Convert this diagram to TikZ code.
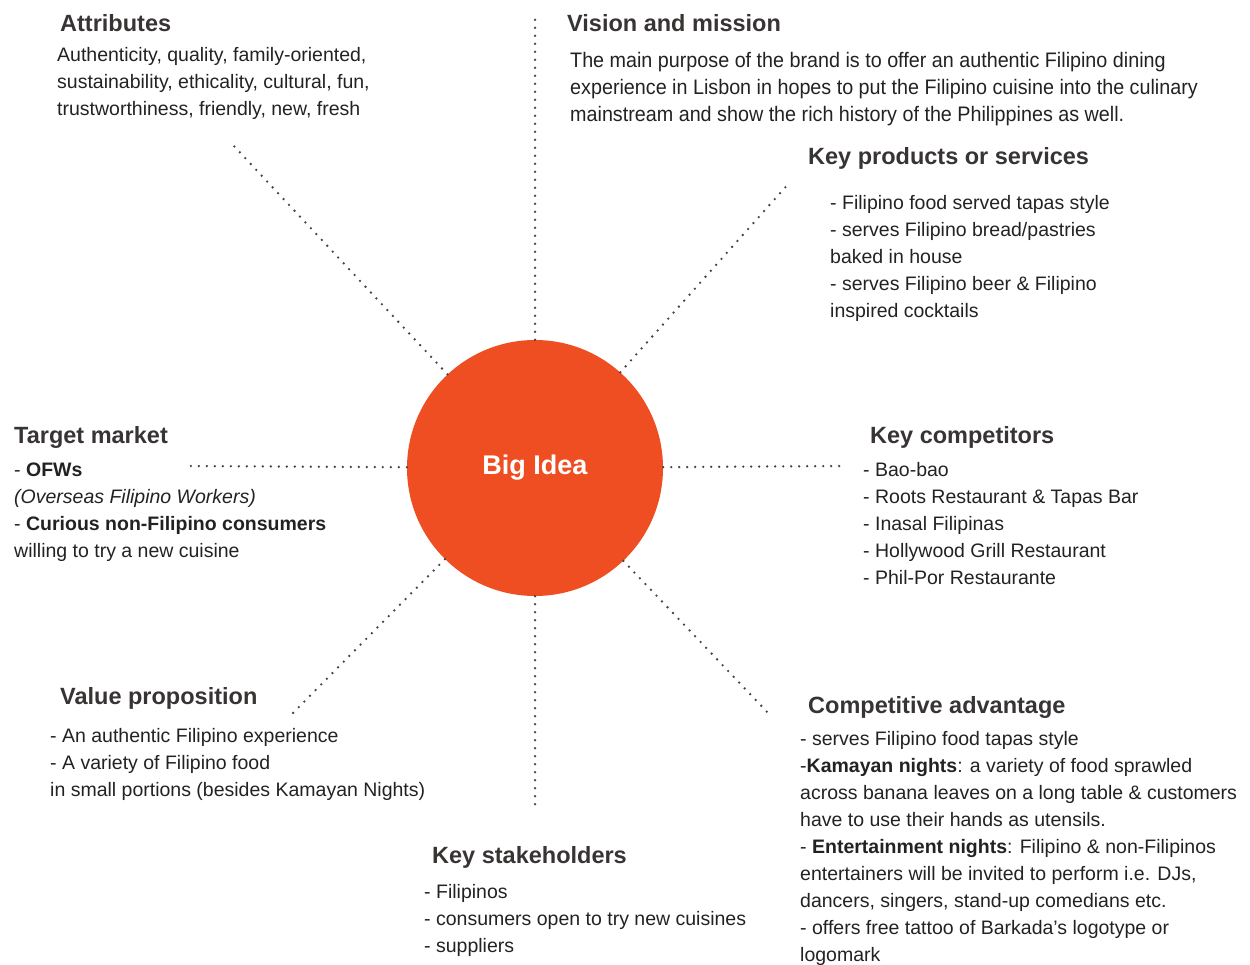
\documentclass[tikz,border=0pt]{standalone}
\usepackage{fontspec}
\setmainfont{Liberation Sans}
\newfontfamily\narrowfont[FakeStretch=0.94]{Liberation Sans}
\usepackage{tikz}
\definecolor{ideaorange}{HTML}{EE4E22}
\definecolor{inkgray}{HTML}{222222}
\definecolor{headgray}{HTML}{383434}
\definecolor{dotgray}{HTML}{444444}

\begin{document}
\begin{tikzpicture}[x=1pt,y=-1pt,
		head/.style={anchor=base west,inner sep=0pt,text=headgray,font=\fontsize{23.5}{28}\selectfont\bfseries},
		body/.style={anchor=base west,inner sep=0pt,align=left,text=inkgray,font=\fontsize{19.5}{27}\selectfont},
		dots/.style={dotgray,line width=2.6pt,line cap=round,dash pattern=on 0pt off 8pt}]
	\useasboundingbox (0,0) rectangle (1250,965);
	
	\node[circle,fill=ideaorange,minimum size=256pt,inner sep=0pt,text=white,font=\fontsize{27}{30}\selectfont\bfseries] (idea) at (535,468) {Big Idea};
	
	\coordinate (up) at (535,17);
	\coordinate (down) at (535,805);
	\coordinate (left) at (190,466);
	\coordinate (right) at (840,466);
	\coordinate (upleft) at (233,145);
	\coordinate (upright) at (790,182);
	\coordinate (downleft) at (290,716);
	\coordinate (downright) at (770,715);
	\foreach \e in {up,down,left,right,upleft,upright,downleft,downright}
		\draw[dots] (idea) -- (\e);
	
	% body texts hang from the baseline of their last line
	\node[head] (attr) at (60,32) {Attributes};
	\node[body] (attrtext) at (57,116) {Authenticity, quality, family-oriented,\\sustainability, ethicality, cultural, fun,\\trustworthiness, friendly, new, fresh};
	
	\node[head] (vision) at (567,32) {Vision and mission};
	\node[body,font=\fontsize{21}{27}\narrowfont] (visiontext) at (570,122) {The main purpose of the brand is to offer an authentic Filipino dining\\experience in Lisbon in hopes to put the Filipino cuisine into the culinary\\mainstream and show the rich history of the Philippines as well.};
	
	\node[head] (products) at (808,165) {Key products or services};
	\node[body] (productstext) at (830,318) {- Filipino food served tapas style\\- serves Filipino bread/pastries\\baked in house\\- serves Filipino beer \& Filipino\\inspired cocktails};
	
	\node[head] (market) at (14,443) {Target market};
	\node[body] (markettext) at (14,557) {- \textbf{OFWs}\\\textit{(Overseas Filipino Workers)}\\- \textbf{Curious non-Filipino consumers}\\willing to try a new cuisine};
	
	\node[head] (rivals) at (870,443) {Key competitors};
	\node[body] (rivalstext) at (863,584) {- Bao-bao\\- Roots Restaurant \& Tapas Bar\\- Inasal Filipinas\\- Hollywood Grill Restaurant\\- Phil-Por Restaurante};
	
	\node[head] (value) at (60,704) {Value proposition};
	\node[body] (valuetext) at (50,796) {- An authentic Filipino experience\\- A variety of Filipino food\\in small portions (besides Kamayan Nights)};
	
	\node[head] (holders) at (432,863) {Key stakeholders};
	\node[body] (holderstext) at (424,952) {- Filipinos\\- consumers open to try new cuisines\\- suppliers};
	
	\node[head] (edge) at (808,713) {Competitive advantage};
	\node[body] (edgetext) at (800,961) {- serves Filipino food tapas style\\-\textbf{Kamayan nights}: a variety of food sprawled\\across banana leaves on a long table \& customers\\have to use their hands as utensils.\\- \textbf{Entertainment nights}: Filipino \& non-Filipinos\\entertainers will be invited to perform i.e. DJs,\\dancers, singers, stand-up comedians etc.\\- offers free tattoo of Barkada's logotype or\\logomark};
\end{tikzpicture}
\end{document}
